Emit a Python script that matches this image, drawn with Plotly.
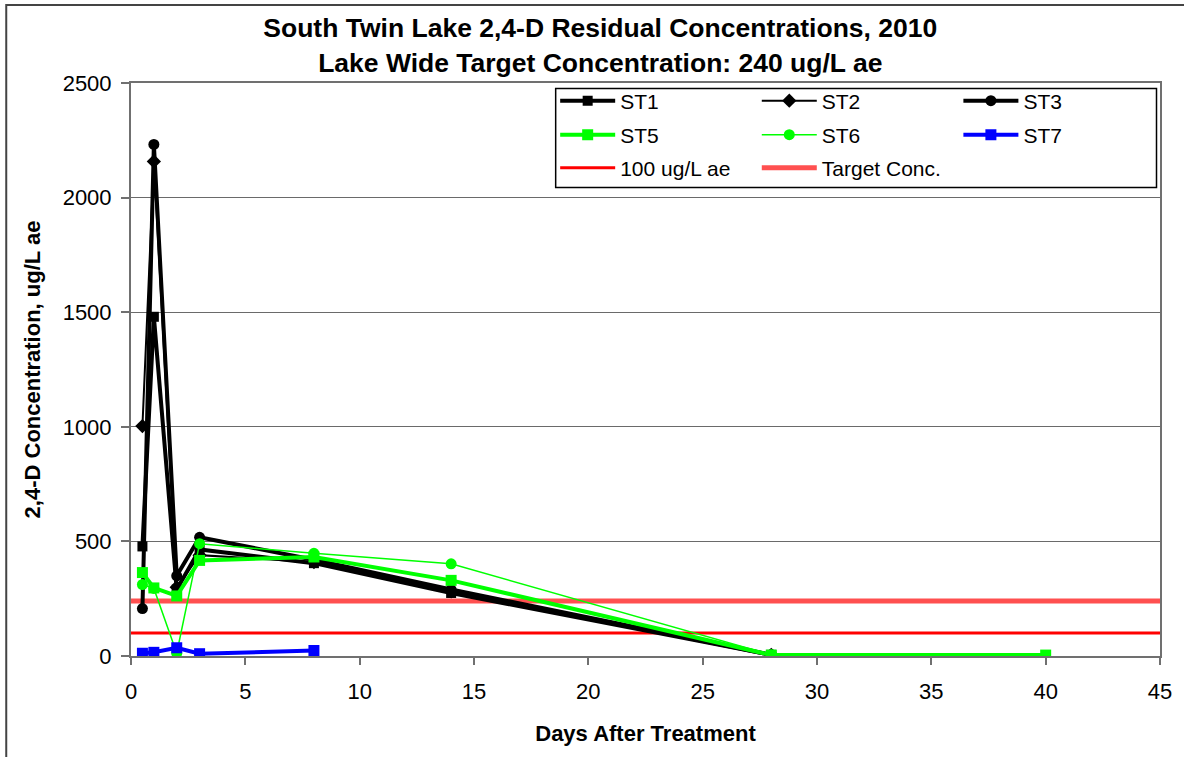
import plotly.graph_objects as go

days = [0.5, 1, 2, 3, 8, 14, 28]
st1 = [478, 1480, 290, 465, 405, 275, 5]
st2 = [1003, 2158, 300, 440, 410, 282, 5]
st3 = [207, 2232, 350, 518, 420, 290, 5]
days5 = [0.5, 1, 2, 3, 8, 14, 28, 40]
st5 = [364, 297, 262, 417, 432, 330, 4, 4]
st6 = [312, 295, 12, 490, 448, 402, 5]
days7 = [0.5, 1, 2, 3, 8]
st7 = [12, 16, 36, 10, 24]
ref_x = [0, 45]
ref_100 = [100, 100]
ref_target = [240, 240]

FONT = "Liberation Sans, Arial, sans-serif"
L, R, T, B = 131, 1162, 83, 656
PW, PH = R - L, B - T


def px(x):
    return (x - L) / PW


def py(y):
    return (B - y) / PH


fig = go.Figure()

fig.add_trace(go.Scatter(x=ref_x, y=ref_100, mode="lines", name="100 ug/L ae",
                         line=dict(color="#ff0000", width=3), legend="legend7", showlegend=True))
fig.add_trace(go.Scatter(x=ref_x, y=ref_target, mode="lines", name="Target Conc.",
                         line=dict(color="#ff5050", width=5), legend="legend8", showlegend=True))

fig.add_trace(go.Scatter(x=days, y=st1, mode="lines+markers", name="ST1",
                         line=dict(color="black", width=4),
                         marker=dict(symbol="square", size=10, color="black"),
                         legend="legend", showlegend=True))
fig.add_trace(go.Scatter(x=days, y=st2, mode="lines+markers", name="ST2",
                         line=dict(color="black", width=2),
                         marker=dict(symbol="diamond", size=11, color="black"),
                         legend="legend2", showlegend=True))
fig.add_trace(go.Scatter(x=days, y=st3, mode="lines+markers", name="ST3",
                         line=dict(color="black", width=4),
                         marker=dict(symbol="circle", size=11, color="black"),
                         legend="legend3", showlegend=True))
fig.add_trace(go.Scatter(x=days5, y=st5, mode="lines+markers", name="ST5",
                         line=dict(color="#00ff00", width=4),
                         marker=dict(symbol="square", size=11, color="#00ff00"),
                         legend="legend4", showlegend=True))
fig.add_trace(go.Scatter(x=days, y=st6, mode="lines+markers", name="ST6",
                         line=dict(color="#00ff00", width=1.5),
                         marker=dict(symbol="circle", size=11, color="#00ff00"),
                         legend="legend5", showlegend=True))
fig.add_trace(go.Scatter(x=days7, y=st7, mode="lines+markers", name="ST7",
                         line=dict(color="#0000ff", width=4),
                         marker=dict(symbol="square", size=11, color="#0000ff"),
                         legend="legend6", showlegend=True))

leg_common = dict(orientation="h", xanchor="left", yanchor="middle",
                  bgcolor="rgba(0,0,0,0)", borderwidth=0, itemwidth=55,
                  font=dict(family=FONT, size=21, color="black"))

cols = [561, 763, 965]
rows = [101, 135, 168]
legends = {}
names = ["legend", "legend2", "legend3", "legend4", "legend5", "legend6", "legend7", "legend8"]
for i, nm in enumerate(names):
    c = cols[i % 3]
    r = rows[i // 3]
    legends[nm] = dict(x=px(c - 5), y=py(r), **leg_common)

fig.update_layout(
    width=1184, height=757,
    showlegend=True,
    margin=dict(l=L, r=1184 - R, t=T, b=757 - B, pad=0),
    paper_bgcolor="white", plot_bgcolor="white",
    font=dict(family=FONT, size=22, color="black"),
    title=dict(text="<b>South Twin Lake 2,4-D Residual Concentrations, 2010<br>Lake Wide Target Concentration: 240 ug/L ae</b>",
               x=0.507, xanchor="center", y=0.951, yanchor="middle",
               font=dict(family=FONT, size=26.5, color="black")),
    **legends,
    xaxis=dict(range=[0, 45], dtick=5, tick0=0, showgrid=False, zeroline=False,
               showline=True, linecolor="#707070", linewidth=2, mirror=True,
               ticks="outside", ticklen=7, tickcolor="#707070", tickwidth=2,
               ticklabelstandoff=8,
               tickfont=dict(family=FONT, size=22, color="black"),
               title=dict(text="<b>Days After Treatment</b>", standoff=22,
                          font=dict(family=FONT, size=22, color="black"))),
    yaxis=dict(range=[0, 2500], dtick=500, tick0=0, showgrid=True, gridcolor="#6a6a6a",
               gridwidth=1, zeroline=False,
               showline=True, linecolor="#707070", linewidth=2, mirror=True,
               ticks="outside", ticklen=8, tickcolor="#707070", tickwidth=2,
               ticklabelstandoff=5,
               tickfont=dict(family=FONT, size=22, color="black"),
               title=dict(text="<b>2,4-D Concentration, ug/L ae</b>", standoff=16,
                          font=dict(family=FONT, size=22, color="black"))),
    shapes=[
        dict(type="rect", xref="paper", yref="paper",
             x0=px(6), x1=px(1300), y0=py(900), y1=py(5),
             line=dict(color="#444444", width=2), layer="below"),
        dict(type="rect", xref="paper", yref="paper",
             x0=px(556.5), x1=px(1158.5), y0=py(187.5), y1=py(88.5),
             line=dict(color="black", width=1.5), fillcolor="white", layer="below"),
    ],
)

fig.write_html("out.html", config={"displayModeBar": False},
               post_script="document.body.style.margin='0';")
